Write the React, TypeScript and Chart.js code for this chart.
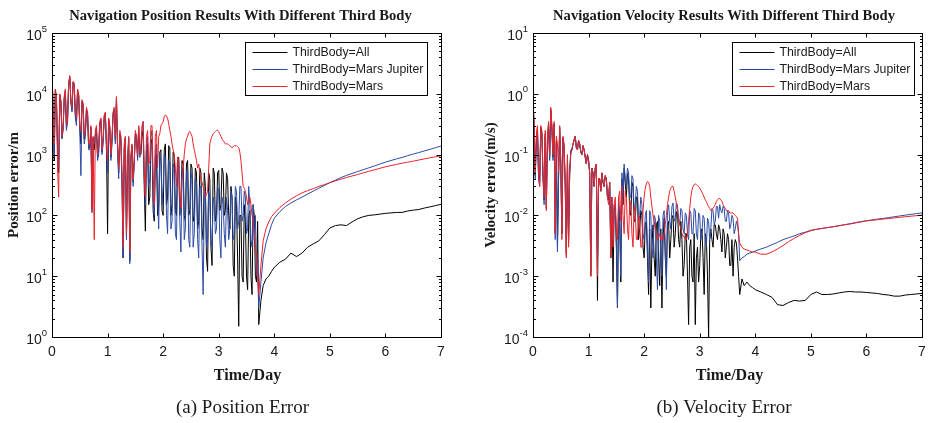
import React, { useEffect, useRef } from "react";
import { Chart, registerables } from "chart.js";
Chart.register(...registerables);

// ---------- shared time axis (days) ----------
const times = [
  0, 0.02, 0.04, 0.06, 0.08, 0.1, 0.12, 0.14, 0.16, 0.18, 0.2, 0.22, 0.24, 0.26, 0.28, 0.3, 0.32, 0.34, 0.36, 0.38,
  0.4, 0.42, 0.44, 0.46, 0.48, 0.5, 0.52, 0.54, 0.56, 0.58, 0.6, 0.62, 0.64, 0.66, 0.68, 0.7, 0.72, 0.74, 0.76, 0.78,
  0.8, 0.82, 0.84, 0.86, 0.88, 0.9, 0.92, 0.94, 0.96, 0.98, 1.0, 1.02, 1.04, 1.06, 1.08, 1.1, 1.12, 1.14, 1.16, 1.18,
  1.2, 1.22, 1.24, 1.26, 1.28, 1.3, 1.32, 1.34, 1.36, 1.38, 1.4, 1.42, 1.44, 1.46, 1.48, 1.5, 1.52, 1.54, 1.56, 1.58,
  1.6, 1.62, 1.64, 1.66, 1.68, 1.7, 1.72, 1.74, 1.76, 1.78, 1.8, 1.82, 1.84, 1.86, 1.88, 1.9, 1.92, 1.94, 1.96, 1.98,
  2.0, 2.02, 2.04, 2.06, 2.08, 2.1, 2.12, 2.14, 2.16, 2.18, 2.2, 2.22, 2.24, 2.26, 2.28, 2.3, 2.32, 2.34, 2.36, 2.38,
  2.4, 2.42, 2.44, 2.46, 2.48, 2.5, 2.52, 2.54, 2.56, 2.58, 2.6, 2.62, 2.64, 2.66, 2.68, 2.7, 2.72, 2.74, 2.76, 2.78,
  2.8, 2.82, 2.84, 2.86, 2.88, 2.9, 2.92, 2.94, 2.96, 2.98, 3.0, 3.02, 3.04, 3.06, 3.08, 3.1, 3.12, 3.14, 3.16, 3.18,
  3.2, 3.22, 3.24, 3.26, 3.28, 3.3, 3.32, 3.34, 3.36, 3.38, 3.4, 3.42, 3.44, 3.46, 3.48, 3.5, 3.52, 3.54, 3.56, 3.58,
  3.6, 3.62, 3.64, 3.66, 3.68, 3.7, 3.72,
  3.76, 3.8, 3.85, 3.9, 3.95, 4.0,
  4.1, 4.2, 4.3, 4.4, 4.5, 4.6, 4.7, 4.8, 4.9, 5.0,
  5.1, 5.2, 5.3, 5.4, 5.5, 5.6, 5.7, 5.8, 5.9, 6.0,
  6.1, 6.2, 6.3, 6.4, 6.5, 6.6, 6.7, 6.8, 6.9, 7.0,
];

const seriesLabels = ["ThirdBody=All", "ThirdBody=Mars Jupiter", "ThirdBody=Mars"];
const seriesColors = ["#000000", "#2c4ba6", "#ec2229"];

// ---------- position error (m) ----------
const posAll = [
  26000, 4500, 800, 11500, 8500, 1200, 500, 9500, 7500, 1900, 2800, 8500, 11000, 2800, 3800, 14500, 19000, 7500, 5500, 15500,
  14000, 4500, 3500, 11500, 9500, 2800, 1500, 7500, 6500, 1800, 2200, 5500, 4800, 1300, 1300, 2800, 130, 1900, 1200, 2200,
  2800, 900, 1200, 3200, 3800, 1100, 1800, 4200, 4800, 1300, 50, 3800, 2800, 900, 1800, 4800, 5500, 1700, 8500, 1300,
  500, 2200, 1800, 350, 20, 1300, 1900, 45, 700, 1900, 18, 900, 1400, 350, 800, 2200, 2000, 900, 2800, 1000,
  1000, 2000, 2500, 300, 55, 1200, 1500, 150, 200, 1500, 1800, 120, 80, 900, 1000, 100, 150, 1100, 1200, 120,
  100, 1200, 1500, 150, 200, 1400, 1300, 100, 150, 1100, 1000, 120, 100, 900, 900, 100, 200, 800, 700, 100,
  80, 700, 800, 100, 120, 700, 600, 80, 100, 600, 500, 60, 80, 600, 500, 60, 40, 500, 300, 20,
  12, 500, 400, 30, 15, 600, 500, 80, 100, 500, 550, 120, 150, 600, 500, 100, 120, 500, 400, 100,
  60, 300, 200, 15, 10, 200, 150, 20, 1.5, 100, 100, 10, 8, 150, 80, 10, 6, 100, 120, 10,
  5, 150, 100, 10, 8, 80, 1.6,
  4, 7, 9, 10, 12, 14,
  17, 19, 24, 21, 24, 30, 34, 38, 48, 62,
  68, 70, 68, 78, 88, 95, 100, 102, 105, 108,
  110, 112, 112, 118, 122, 125, 132, 138, 145, 152,
];
const posMarsJupiter = [
  25000, 4000, 900, 11000, 8000, 1500, 600, 9000, 7000, 1800, 2500, 8000, 11000, 2500, 3500, 14000, 18000, 7000, 5000, 15000,
  14000, 4000, 3000, 11000, 9000, 2500, 450, 7000, 6000, 1500, 2000, 5000, 4500, 1200, 1200, 2500, 110, 1800, 1500, 2000,
  2500, 800, 1000, 3000, 3500, 1000, 1500, 4000, 4500, 1200, 500, 3500, 2500, 800, 1500, 4500, 5000, 1500, 8000, 1200,
  400, 2000, 1500, 300, 20, 1200, 1800, 40, 600, 1800, 16, 800, 1200, 300, 700, 2000, 1800, 800, 2500, 900,
  1200, 2500, 3500, 400, 150, 1500, 2000, 300, 400, 2000, 2500, 200, 100, 1200, 1500, 200, 60, 1000, 800, 150,
  300, 1000, 900, 100, 50, 800, 700, 60, 80, 700, 600, 50, 40, 500, 800, 80, 25, 600, 500, 40,
  60, 500, 600, 40, 30, 500, 400, 30, 50, 400, 350, 40, 20, 300, 300, 30, 5, 200, 250, 30,
  40, 250, 200, 40, 30, 200, 150, 50, 60, 300, 250, 40, 20, 200, 150, 50, 30, 200, 120, 40,
  60, 250, 200, 40, 50, 300, 250, 60, 80, 300, 300, 80, 100, 250, 200, 50, 60, 300, 150, 40,
  30, 150, 40, 100, 10, 20, 3,
  8, 20, 35, 50, 70, 90,
  115, 140, 160, 180, 200, 225, 250, 280, 310, 345,
  380, 420, 455, 490, 525, 565, 605, 650, 700, 750,
  800, 850, 900, 960, 1020, 1080, 1150, 1220, 1300, 1380,
];
const posMars = [
  28000, 5000, 1500, 12000, 9000, 600, 200, 10000, 8000, 2000, 3000, 9000, 12000, 3000, 4000, 15000, 20000, 8000, 6000, 16000,
  15000, 5000, 4000, 12000, 10000, 3000, 2500, 8000, 7000, 2000, 2500, 6000, 5000, 1500, 1500, 3000, 120, 2000, 40, 2500,
  3000, 1000, 1500, 3500, 4000, 1200, 2000, 4500, 5000, 1500, 800, 4000, 3000, 1000, 2000, 5000, 6000, 2000, 9000, 1500,
  600, 2500, 2000, 500, 30, 1500, 2000, 50, 800, 2000, 25, 1000, 1500, 400, 800, 2500, 2000, 1000, 3000, 1000,
  1500, 3000, 3500, 600, 200, 2000, 2500, 700, 800, 3000, 3000, 500, 150, 2000, 2500, 600, 2000, 2200, 3000, 3200,
  3500, 4200, 4500, 4300, 4000, 3200, 2500, 2000, 1500, 1200, 1000, 600, 300, 900, 800, 200, 130, 400, 600, 1000,
  1500, 1800, 2000, 2300, 2400, 2200, 2000, 1500, 1200, 1000, 800, 600, 700, 500, 400, 350, 300, 250, 200, 220,
  250, 600, 1500, 1800, 2000, 2200, 2300, 2400, 2500, 2500, 2400, 2200, 2000, 1800, 1700, 1600, 1500, 1500, 1500, 1450,
  1400, 1350, 1300, 1350, 1400, 1400, 1400, 1350, 1300, 1100, 800, 500, 300, 280, 250, 200, 150, 180, 200, 150,
  100, 80, 50, 30, 20, 10, 5,
  15, 38, 60, 78, 95, 108,
  135, 160, 185, 210, 235, 255, 275, 300, 320, 345,
  370, 395, 420, 445, 470, 500, 530, 560, 595, 630,
  660, 690, 720, 750, 780, 815, 850, 885, 920, 955,
];

// ---------- velocity error (m/s) ----------
const velAll = [
  0.9, 0.28, 0.045, 0.18, 0.28, 0.045, 0.035, 0.28, 0.22, 0.045, 0.018, 0.22, 0.013, 0.18, 0.32, 0.09, 0.55, 0.28, 0.09, 0.32,
  0.005, 0.17, 0.003, 0.045, 0.28, 0.075, 0.005, 0.19, 0.13, 0.035, 0.0022, 0.09, 0.0035, 0.05, 0.11, 0.12, 0.15, 0.17, 0.2, 0.13,
  0.12, 0.17, 0.15, 0.11, 0.1, 0.14, 0.12, 0.09, 0.07, 0.1, 0.08, 0.05, 0.001, 0.06, 0.05, 0.03, 0.06, 0.07, 0.0004, 0.04,
  0.04, 0.025, 0.05, 0.035, 0.03, 0.045, 0.04, 0.02, 0.018, 0.035, 0.002, 0.015, 0.0008, 0.012, 0.015, 0.003, 0.0003, 0.015, 0.008, 0.0008,
  0.04, 0.015, 0.06, 0.035, 0.02, 0.05, 0.04, 0.012, 0.01, 0.035, 0.03, 0.008, 0.008, 0.02, 0.02, 0.004, 0.006, 0.012, 0.01, 0.003,
  0.002, 0.007, 0.008, 0.002, 0.0005, 0.006, 0.0003, 0.003, 0.007, 0.002, 0.001, 0.007, 0.008, 0.002, 0.0007, 0.006, 0.0003, 0.004, 0.009, 0.002,
  0.001, 0.007, 0.008, 0.002, 0.004, 0.009, 0.01, 0.003, 0.005, 0.011, 0.012, 0.004, 0.003, 0.008, 0.004, 0.001, 0.0015, 0.005, 0.005, 0.001,
  0.00016, 0.003, 0.004, 0.001, 0.0008, 0.005, 0.00016, 0.002, 0.003, 0.0008, 0.0015, 0.005, 0.006, 0.002, 0.0005, 0.005, 0.004, 0.001, 0.0001, 0.004,
  0.006, 0.004, 0.003, 0.007, 0.007, 0.005, 0.004, 0.007, 0.006, 0.004, 0.0025, 0.006, 0.005, 0.002, 0.003, 0.005, 0.004, 0.0015, 0.0015, 0.004,
  0.001, 0.003, 0.004, 0.0035, 0.002, 0.001, 0.0005,
  0.0009, 0.0007, 0.0008, 0.0007, 0.00065, 0.0006,
  0.00055, 0.0005, 0.00045, 0.00034, 0.00033, 0.00037, 0.0004, 0.00039, 0.0004, 0.0005,
  0.00055, 0.0005, 0.0005, 0.00051, 0.00053, 0.00055, 0.00056, 0.00055, 0.00055, 0.00054,
  0.00053, 0.00052, 0.0005, 0.00049, 0.00047, 0.00047, 0.00049, 0.0005, 0.00051, 0.00052,
];
const velMarsJupiter = [
  0.8, 0.25, 0.04, 0.15, 0.25, 0.04, 0.03, 0.25, 0.2, 0.04, 0.015, 0.2, 0.015, 0.15, 0.3, 0.08, 0.5, 0.25, 0.08, 0.3,
  0.004, 0.15, 0.0025, 0.04, 0.25, 0.07, 0.005, 0.18, 0.12, 0.03, 0.0025, 0.08, 0.004, 0.05, 0.12, 0.12, 0.15, 0.17, 0.2, 0.13,
  0.12, 0.17, 0.15, 0.11, 0.1, 0.14, 0.12, 0.09, 0.07, 0.1, 0.08, 0.05, 0.0012, 0.06, 0.05, 0.03, 0.06, 0.07, 0.0015, 0.04,
  0.04, 0.025, 0.05, 0.035, 0.03, 0.045, 0.04, 0.02, 0.02, 0.035, 0.003, 0.02, 0.004, 0.015, 0.015, 0.004, 0.0003, 0.02, 0.01, 0.001,
  0.05, 0.02, 0.07, 0.04, 0.03, 0.06, 0.05, 0.02, 0.02, 0.045, 0.04, 0.012, 0.015, 0.03, 0.025, 0.008, 0.01, 0.02, 0.015, 0.005,
  0.004, 0.01, 0.012, 0.003, 0.0008, 0.012, 0.01, 0.003, 0.002, 0.01, 0.009, 0.002, 0.0006, 0.01, 0.008, 0.002, 0.001, 0.01, 0.012, 0.003,
  0.0006, 0.012, 0.015, 0.008, 0.006, 0.014, 0.016, 0.008, 0.009, 0.016, 0.015, 0.008, 0.007, 0.013, 0.012, 0.006, 0.005, 0.011, 0.01, 0.005,
  0.004, 0.012, 0.011, 0.005, 0.005, 0.013, 0.012, 0.005, 0.004, 0.011, 0.01, 0.004, 0.005, 0.01, 0.009, 0.004, 0.003, 0.009, 0.008, 0.004,
  0.006, 0.013, 0.012, 0.007, 0.008, 0.014, 0.014, 0.009, 0.015, 0.012, 0.011, 0.014, 0.013, 0.008, 0.008, 0.012, 0.011, 0.006, 0.007, 0.01,
  0.009, 0.005, 0.006, 0.008, 0.007, 0.005, 0.0018,
  0.002, 0.0021, 0.0023, 0.0024, 0.0025, 0.0026,
  0.0028, 0.003, 0.0033, 0.0036, 0.004, 0.0043, 0.0046, 0.005, 0.0053, 0.0057,
  0.0059, 0.0061, 0.0063, 0.0065, 0.0068, 0.007, 0.0073, 0.0076, 0.0079, 0.0082,
  0.0084, 0.0087, 0.0089, 0.0092, 0.0095, 0.0098, 0.0101, 0.0104, 0.0107, 0.011,
];
const velMars = [
  1.0, 0.3, 0.05, 0.2, 0.3, 0.05, 0.03, 0.3, 0.25, 0.05, 0.02, 0.25, 0.012, 0.2, 0.35, 0.1, 0.6, 0.3, 0.1, 0.35,
  0.005, 0.2, 0.15, 0.05, 0.3, 0.08, 0.004, 0.2, 0.15, 0.03, 0.002, 0.1, 0.003, 0.05, 0.1, 0.12, 0.15, 0.18, 0.2, 0.13,
  0.12, 0.17, 0.15, 0.11, 0.1, 0.14, 0.12, 0.09, 0.07, 0.1, 0.08, 0.05, 0.001, 0.06, 0.05, 0.03, 0.06, 0.07, 0.001, 0.04,
  0.04, 0.025, 0.05, 0.035, 0.03, 0.045, 0.04, 0.02, 0.015, 0.035, 0.002, 0.02, 0.003, 0.015, 0.02, 0.006, 0.004, 0.02, 0.025, 0.008,
  0.03, 0.01, 0.005, 0.025, 0.02, 0.006, 0.004, 0.018, 0.015, 0.005, 0.003, 0.014, 0.012, 0.004, 0.004, 0.01, 0.008, 0.003, 0.003, 0.012,
  0.02, 0.028, 0.033, 0.036, 0.035, 0.03, 0.02, 0.014, 0.01, 0.008, 0.006, 0.005, 0.004, 0.0045, 0.005, 0.004, 0.0045, 0.004, 0.005, 0.007,
  0.01, 0.015, 0.02, 0.025, 0.028, 0.03, 0.03, 0.025, 0.02, 0.016, 0.012, 0.009, 0.007, 0.006, 0.005, 0.0045, 0.0045, 0.004, 0.004, 0.005,
  0.008, 0.013, 0.02, 0.026, 0.03, 0.032, 0.033, 0.032, 0.031, 0.03, 0.028, 0.026, 0.024, 0.022, 0.02, 0.018, 0.017, 0.015, 0.014, 0.013,
  0.012, 0.012, 0.013, 0.014, 0.015, 0.017, 0.018, 0.019, 0.019, 0.018, 0.017, 0.015, 0.014, 0.013, 0.012, 0.012, 0.012, 0.011, 0.011, 0.011,
  0.011, 0.0105, 0.01, 0.0095, 0.009, 0.005, 0.0035,
  0.003, 0.0028, 0.0027, 0.0026, 0.0025, 0.0025,
  0.0023, 0.0023, 0.0025, 0.0028, 0.0032, 0.0037, 0.0042, 0.0047, 0.0052, 0.0056,
  0.0059, 0.0061, 0.0063, 0.0065, 0.0067, 0.007, 0.0072, 0.0075, 0.0078, 0.0081,
  0.0083, 0.0085, 0.0087, 0.0089, 0.0091, 0.0093, 0.0095, 0.0097, 0.0099, 0.0101,
];

const xTicks = [0, 1, 2, 3, 4, 5, 6, 7];

const SANS = '"Liberation Sans", Arial, Helvetica, sans-serif';
const SERIF = '"Liberation Serif", "Times New Roman", Times, serif';
const TEXT = "#1a1a1a";

type PanelOpts = {
  title: string;
  titleX: number;
  yLabel: string;
  yLabelX: number;
  xTitle: string;
  xTitleX: number;
  caption: string;
  captionX: number;
  legendX: number;
  expMin: number;
  expMax: number;
};

const decorPlugin = {
  id: "decor",
  afterDraw(chart: any, _args: any, o: PanelOpts) {
    const ctx = chart.ctx as CanvasRenderingContext2D;
    const ca = chart.chartArea;
    const xs = chart.scales.x;
    const ys = chart.scales.y;
    const L = Math.round(ca.left) + 0.5;
    const R = Math.round(ca.right) + 0.5;
    const T = Math.round(ca.top) + 0.5;
    const B = Math.round(ca.bottom) + 0.5;
    ctx.save();
    ctx.strokeStyle = "#000";
    ctx.lineWidth = 1;
    ctx.strokeRect(L, T, R - L, B - T);
    ctx.beginPath();
    xTicks.forEach((t) => {
      const px = Math.round(xs.getPixelForValue(t)) + 0.5;
      ctx.moveTo(px, B);
      ctx.lineTo(px, B - 4);
      ctx.moveTo(px, T);
      ctx.lineTo(px, T + 4);
    });
    for (let e = o.expMin; e <= o.expMax; e++) {
      for (let m = 1; m <= 9; m++) {
        if (e === o.expMax && m > 1) break;
        const v = m * Math.pow(10, e);
        const py = Math.round(ys.getPixelForValue(v)) + 0.5;
        const len = m === 1 ? 5 : 2.5;
        ctx.moveTo(L, py);
        ctx.lineTo(L + len, py);
        ctx.moveTo(R, py);
        ctx.lineTo(R - len, py);
      }
    }
    ctx.stroke();

    ctx.fillStyle = TEXT;
    ctx.font = `14px ${SANS}`;
    ctx.textAlign = "center";
    ctx.textBaseline = "middle";
    xTicks.forEach((t) => {
      ctx.fillText(String(t), xs.getPixelForValue(t), 352);
    });
    for (let e = o.expMin; e <= o.expMax; e++) {
      const py = ys.getPixelForValue(Math.pow(10, e));
      const expStr = String(e);
      ctx.font = `14px ${SANS}`;
      const wb = ctx.measureText("10").width;
      ctx.font = `9.5px ${SANS}`;
      const we = ctx.measureText(expStr).width;
      const x0 = ca.left - 5 - wb - we;
      ctx.textAlign = "left";
      ctx.textBaseline = "alphabetic";
      ctx.font = `14px ${SANS}`;
      ctx.fillText("10", x0, py + 7);
      ctx.font = `9.5px ${SANS}`;
      ctx.fillText(expStr, x0 + wb, py - 1.5);
    }
    ctx.textAlign = "center";
    ctx.textBaseline = "middle";
    ctx.font = `bold 14.6px ${SERIF}`;
    ctx.fillText(o.title, o.titleX, 16);
    ctx.font = `bold 16px ${SERIF}`;
    ctx.fillText(o.xTitle, o.xTitleX, 376);
    ctx.font = `19px ${SERIF}`;
    ctx.fillText(o.caption, o.captionX, 408);
    ctx.save();
    ctx.translate(o.yLabelX, 185);
    ctx.rotate(-Math.PI / 2);
    ctx.font = `bold 15px ${SERIF}`;
    ctx.fillText(o.yLabel, 0, 0);
    ctx.restore();

    const bx = Math.round(o.legendX) + 0.5;
    const by = 42.5;
    const bw = 182;
    const bh = 53;
    ctx.fillStyle = "#fff";
    ctx.fillRect(bx, by, bw, bh);
    ctx.strokeStyle = "#000";
    ctx.strokeRect(bx, by, bw, bh);
    const rows = [52, 69, 86];
    chart.data.datasets.forEach((ds: any, i: number) => {
      const ry = rows[i] + 0.5;
      ctx.strokeStyle = ds.borderColor;
      ctx.beginPath();
      ctx.moveTo(bx + 7, ry);
      ctx.lineTo(bx + 42, ry);
      ctx.stroke();
      ctx.fillStyle = TEXT;
      ctx.font = `12.3px ${SANS}`;
      ctx.textAlign = "left";
      ctx.textBaseline = "middle";
      ctx.fillText(ds.label, bx + 47, rows[i] + 0.5);
    });
    ctx.restore();
  },
};

function buildConfig(
  series: number[][],
  yMin: number,
  yMax: number,
  padding: { left: number; right: number; top: number; bottom: number },
  decor: PanelOpts
): any {
  return {
    type: "line",
    data: {
      datasets: series.map((vals, i) => ({
        label: seriesLabels[i],
        data: times.map((t, k) => ({ x: t, y: vals[k] })),
        borderColor: seriesColors[i],
        backgroundColor: seriesColors[i],
        borderWidth: 1,
        pointRadius: 0,
        tension: 0,
        fill: false,
        order: 3 - i,
      })),
    },
    options: {
      responsive: false,
      animation: false,
      events: [],
      layout: { padding },
      scales: {
        x: { type: "linear", min: 0, max: 7, display: false },
        y: { type: "logarithmic", min: yMin, max: yMax, display: false },
      },
      plugins: {
        legend: { display: false },
        title: { display: false },
        tooltip: { enabled: false },
        decor,
      },
    },
    plugins: [decorPlugin],
  };
}

export default function App() {
  const leftRef = useRef<HTMLCanvasElement>(null);
  const rightRef = useRef<HTMLCanvasElement>(null);

  useEffect(() => {
    const c1 = new Chart(
      leftRef.current as HTMLCanvasElement,
      buildConfig(
        [posAll, posMarsJupiter, posMars],
        1,
        1e5,
        { left: 52, right: 24, top: 33, bottom: 86 },
        {
          title: "Navigation Position Results With Different Third Body",
          titleX: 240.5,
          yLabel: "Position error/m",
          yLabelX: 14,
          xTitle: "Time/Day",
          xTitleX: 247.5,
          caption: "(a) Position Error",
          captionX: 242.5,
          legendX: 245,
          expMin: 0,
          expMax: 5,
        }
      )
    );
    const c2 = new Chart(
      rightRef.current as HTMLCanvasElement,
      buildConfig(
        [velAll, velMarsJupiter, velMars],
        1e-4,
        10,
        { left: 68, right: 7, top: 33, bottom: 86 },
        {
          title: "Navigation Velocity Results With Different Third Body",
          titleX: 259,
          yLabel: "Velocity error/(m/s)",
          yLabelX: 26,
          xTitle: "Time/Day",
          xTitleX: 264.5,
          caption: "(b) Velocity Error",
          captionX: 259,
          legendX: 266.7,
          expMin: -4,
          expMax: 1,
        }
      )
    );
    return () => {
      c1.destroy();
      c2.destroy();
    };
  }, []);

  return (
    <div
      style={{
        position: "fixed",
        left: 0,
        top: 0,
        width: 929,
        height: 423,
        background: "#fff",
        overflow: "hidden",
      }}
    >
      <canvas
        ref={leftRef}
        width={465}
        height={423}
        style={{ position: "absolute", left: 0, top: 0, width: 465, height: 423 }}
      />
      <canvas
        ref={rightRef}
        width={464}
        height={423}
        style={{ position: "absolute", left: 465, top: 0, width: 464, height: 423 }}
      />
    </div>
  );
}
